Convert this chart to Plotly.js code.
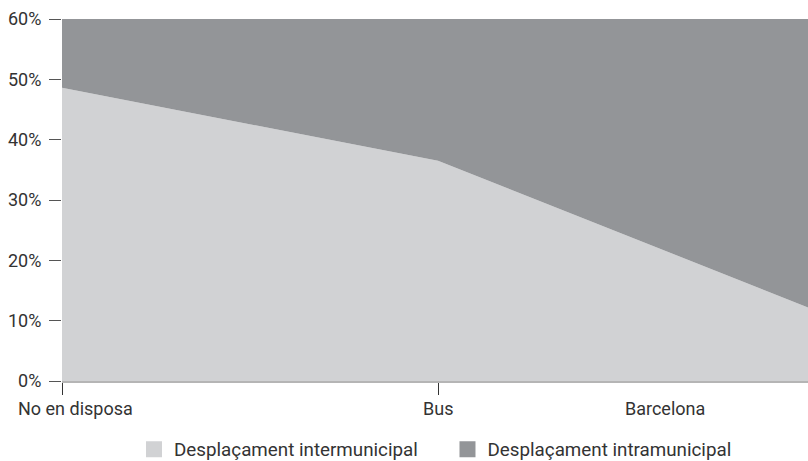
<!DOCTYPE html>
<html>
<head>
<meta charset="utf-8">
<script src="https://cdn.plot.ly/plotly-3.0.1.min.js"></script>
<style>html,body{margin:0;padding:0;background:#fff;}#chart{width:808px;height:461px;}</style>
</head>
<body>
<div id="chart"></div>
<script>
const categories = ["No en disposa", "Bus", "Barcelona"];
const xPositions = [0, 1, 2];
const intermunicipal = [48.6, 36.5, 11.8];
const intramunicipal = [51.4, 63.5, 88.2];
const seriesNames = ["Desplaçament intermunicipal", "Desplaçament intramunicipal"];
const seriesColors = ["#d1d2d4", "#939598"];
const yTickVals = [0, 10, 20, 30, 40, 50, 60];
const yTickText = ["0%", "10%", "20%", "30%", "40%", "50%", "60%"];

const FONT = "Roboto, 'Open Sans', sans-serif";
const traces = [
  {x: xPositions, y: intermunicipal, name: seriesNames[0], type: "scatter", mode: "lines",
   stackgroup: "one", line: {width: 0, color: seriesColors[0]}, fillcolor: seriesColors[0],
   showlegend: false, hoverinfo: "skip"},
  {x: xPositions, y: intramunicipal, name: seriesNames[1], type: "scatter", mode: "lines",
   stackgroup: "one", line: {width: 0, color: seriesColors[1]}, fillcolor: seriesColors[1],
   showlegend: false, hoverinfo: "skip"},
  // legend swatches (no data)
  {x: [null], y: [null], name: seriesNames[0], type: "scatter", mode: "markers",
   marker: {symbol: "square", size: 16, color: seriesColors[0]}, showlegend: true},
  {x: [null], y: [null], name: seriesNames[1], type: "scatter", mode: "markers",
   marker: {symbol: "square", size: 16, color: seriesColors[1]}, showlegend: true}
];
const layout = {
  width: 808, height: 461,
  margin: {l: 62, r: 0, t: 19, b: 80, autoexpand: false},
  paper_bgcolor: "#fff", plot_bgcolor: "#fff",
  font: {family: FONT, color: "#333", size: 18},
  showlegend: true,
  legend: {orientation: "h", x: 0.0965, xanchor: "left", y: -0.189, yanchor: "middle",
           font: {size: 18.8, color: "#333"}, traceorder: "normal",
           entrywidth: 268.5, entrywidthmode: "pixels", bgcolor: "rgba(0,0,0,0)"},
  xaxis: {range: [0, 1.984], tickvals: [0, 1], showticklabels: false,
          ticks: "outside", ticklen: 12, tickcolor: "#333", tickwidth: 1,
          showline: true, linecolor: "#b5b5b5", linewidth: 2,
          showgrid: false, zeroline: false, fixedrange: true},
  yaxis: {range: [0, 60], tickvals: yTickVals, ticktext: yTickText,
          ticks: "outside", ticklen: 12, tickcolor: "#555", tickwidth: 1,
          ticklabelstandoff: 4,
          showline: false, showgrid: false, zeroline: false,
          tickfont: {size: 18, color: "#333"}, fixedrange: true},
  annotations: [
    {x: xPositions[0], xref: "x", y: 0, yref: "paper", xanchor: "left", yanchor: "top",
     xshift: -46, yshift: -15, text: categories[0], showarrow: false, font: {size: 18, color: "#333"}},
    {x: xPositions[1], xref: "x", y: 0, yref: "paper", xanchor: "center", yanchor: "top",
     yshift: -15, text: categories[1], showarrow: false, font: {size: 18, color: "#333"}},
    {x: 1.604, xref: "x", y: 0, yref: "paper", xanchor: "center", yanchor: "top",
     yshift: -15, text: categories[2], showarrow: false, font: {size: 18, color: "#333"}}
  ]
};
Plotly.newPlot("chart", traces, layout, {displayModeBar: false, staticPlot: true});
</script>
</body>
</html>
